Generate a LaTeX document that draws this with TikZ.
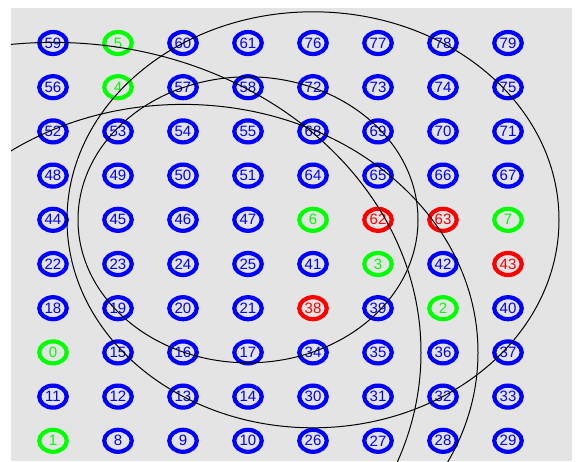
\documentclass[tikz,border=0pt]{standalone}
\usepackage{fontspec}
\setmainfont{Liberation Sans}
\usetikzlibrary{shapes.geometric}
\definecolor{panel}{HTML}{E4E4E4}

\begin{document}
\begin{tikzpicture}[x=1pt, y=-1pt,
    pt/.style={ellipse, draw=#1, text=#1, line width=4.2pt, minimum width=27.5pt, minimum height=22pt, inner sep=0pt, font=\fontsize{15}{15}\selectfont},
    ring/.style={line width=1pt}]
        % Define the grid spacing
        \def\dx{65}
        \def\dy{44.2}

        \useasboundingbox (0,0) rectangle (576,461);
        % Draw the panel
        \fill[panel] (11,8) rectangle (572,461);

        % Place the numbered points row by row
        \foreach \r/\row in {
            0/{59/blue,5/green,60/blue,61/blue,76/blue,77/blue,78/blue,79/blue},
            1/{56/blue,4/green,57/blue,58/blue,72/blue,73/blue,74/blue,75/blue},
            2/{52/blue,53/blue,54/blue,55/blue,68/blue,69/blue,70/blue,71/blue},
            3/{48/blue,49/blue,50/blue,51/blue,64/blue,65/blue,66/blue,67/blue},
            4/{44/blue,45/blue,46/blue,47/blue,6/green,62/red,63/red,7/green},
            5/{22/blue,23/blue,24/blue,25/blue,41/blue,3/green,42/blue,43/red},
            6/{18/blue,19/blue,20/blue,21/blue,38/red,39/blue,2/green,40/blue},
            7/{0/green,15/blue,16/blue,17/blue,34/blue,35/blue,36/blue,37/blue},
            8/{11/blue,12/blue,13/blue,14/blue,30/blue,31/blue,32/blue,33/blue},
            9/{1/green,8/blue,9/blue,10/blue,26/blue,27/blue,28/blue,29/blue}}
        {
          \foreach \lbl/\col [count=\c from 0] in \row
          {
            \node[pt=\col] (n\lbl) at ({53+\dx*\c},{43+\dy*\r}) {\lbl};
          }
        }

        % Draw the range rings round four of the points
        \begin{scope}
          \clip (11,8) rectangle (572,461);
          \draw[ring] (n47.center) ellipse [x radius=170pt, y radius=143pt];
          \draw[ring] (n6.center) ellipse [x radius=246pt, y radius=208pt];
          \draw[ring] (n0.center) ellipse [x radius=368pt, y radius=310pt];
          \draw[ring] (n16.center) ellipse [x radius=295pt, y radius=248pt];
        \end{scope}
      \end{tikzpicture}
\end{document}
